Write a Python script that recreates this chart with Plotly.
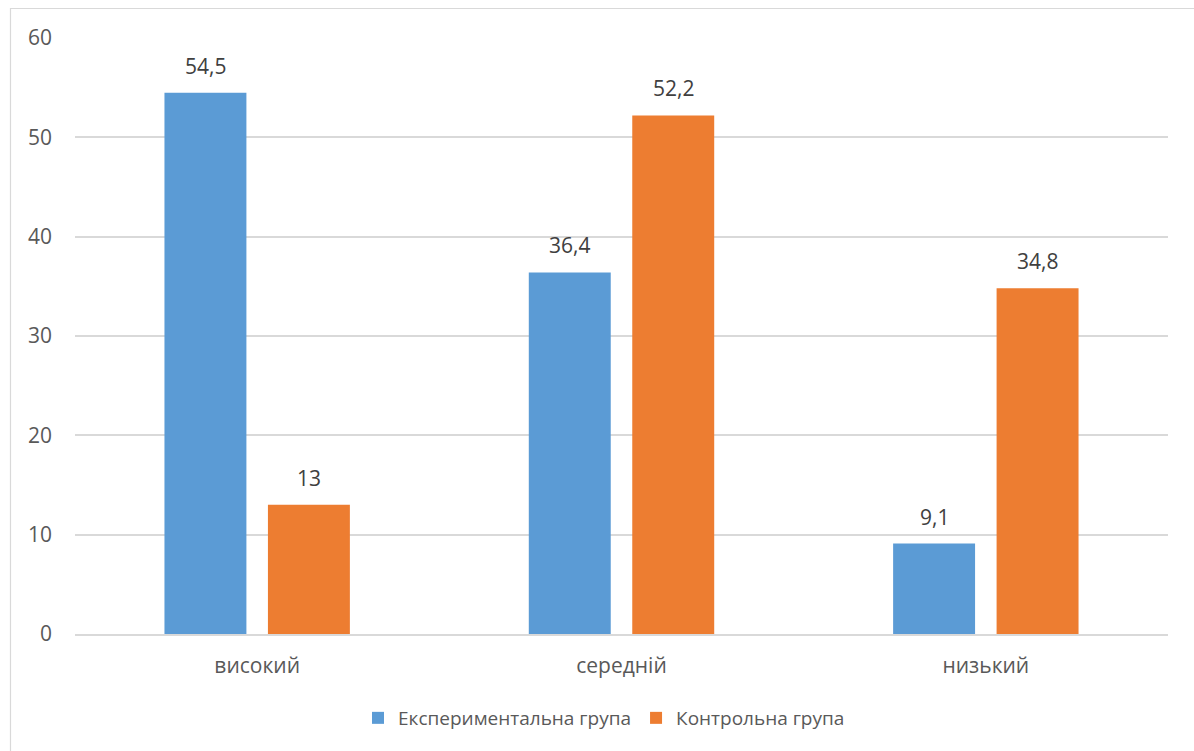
import plotly.graph_objects as go

# Рівні сформованості та відсотки по групах
categories = ["високий", "середній", "низький"]
experimental = [54.5, 36.4, 9.1]
control = [13, 52.2, 34.8]
series_names = ["Експериментальна група", "Контрольна група"]
y_ticks = [0, 10, 20, 30, 40, 50, 60]

BLUE = "#5b9bd5"
ORANGE = "#ed7d31"
TEXT = "#595959"
GRID = "#d9d9d9"
FONT = "Open Sans, Noto Sans, sans-serif"

W, H = 1194, 751
M = dict(l=75, r=26, t=38, b=117)

fig = go.Figure()
fig.add_trace(go.Bar(x=categories, y=experimental, name=series_names[0],
                     marker=dict(color=BLUE, line=dict(width=0))))
fig.add_trace(go.Bar(x=categories, y=control, name=series_names[1],
                     marker=dict(color=ORANGE, line=dict(width=0))))

# value labels above each bar, comma as the decimal separator
plot_w = W - M["l"] - M["r"]
plot_h = H - M["t"] - M["b"]
cat_w = plot_w / len(categories)
bargap = 0.432
slot = cat_w * (1 - bargap) / 2
for values, shift in ((experimental, -slot / 2), (control, slot / 2)):
    for c, v in zip(categories, values):
        fig.add_annotation(x=c, y=v, xref="x", yref="y",
                           text=f"{v:g}".replace(".", ","),
                           showarrow=False, xshift=shift, yanchor="bottom",
                           yshift=11, font=dict(family=FONT, size=21, color="#404040"))

# outer chart frame
fig.add_shape(type="rect", xref="paper", yref="paper",
              x0=(10.5 - M["l"]) / plot_w, x1=(W + 20 - M["l"]) / plot_w,
              y0=-(M["b"] + 20) / plot_h,
              y1=1 + (M["t"] - 8.5) / plot_h,
              line=dict(color=GRID, width=1.2), layer="below")

fig.update_layout(
    width=W, height=H, margin=M,
    paper_bgcolor="white", plot_bgcolor="white",
    barmode="group", bargap=bargap, bargroupgap=0.208,
    font=dict(family=FONT, size=21, color=TEXT),
    showlegend=True,
    legend=dict(orientation="h", x=0.484, xanchor="center",
                y=-(718 - M["t"] - plot_h) / plot_h, yanchor="middle",
                font=dict(family=FONT, size=19, color=TEXT),
                itemwidth=30, traceorder="normal"),
    xaxis=dict(showgrid=False, showline=True, linecolor=GRID, linewidth=1.5,
               ticks="", ticklabelstandoff=12, tickfont=dict(size=21, color=TEXT)),
    yaxis=dict(range=[0, 60], tickvals=y_ticks, showgrid=True, gridcolor=GRID,
               gridwidth=1.5, zeroline=False, showline=False, ticks="",
               ticklabelstandoff=22, tickfont=dict(size=21, color=TEXT)),
)

fig.write_html("out.html")
